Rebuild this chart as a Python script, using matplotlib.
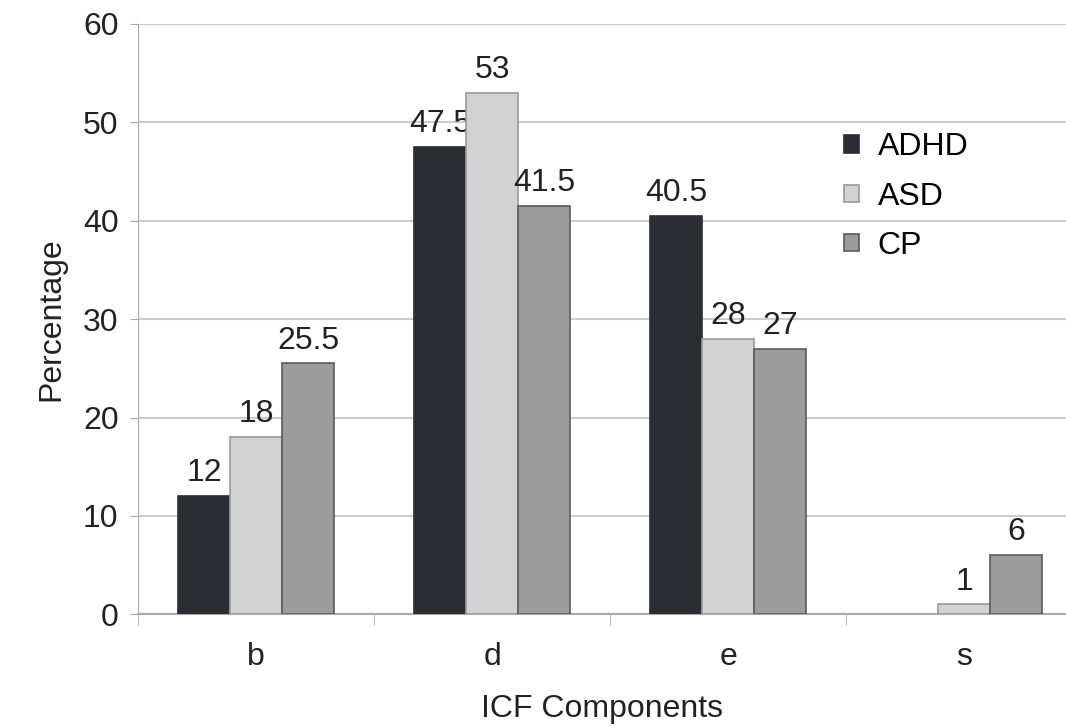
import matplotlib
matplotlib.use("Agg")
import matplotlib.pyplot as plt
import numpy as np

categories = ["b", "d", "e", "s"]
series_names = ["ADHD", "ASD", "CP"]
adhd = [12, 47.5, 40.5, None]
asd = [18, 53, 28, 1]
cp = [25.5, 41.5, 27, 6]
yticks = [0, 10, 20, 30, 40, 50, 60]

plt.rcParams['font.family'] = ['Liberation Sans', 'DejaVu Sans']

fig = plt.figure(figsize=(10.66, 7.27), dpi=100)
ax = fig.add_axes([0.1295, 0.155, 1 - 0.1295, 0.812])

colors = ["#2b2d33", "#d2d2d2", "#9c9c9c"]
edges = ["#2b2d33", "#9a9a9a", "#5a5a5a"]
w = 0.22
fs = 23
x = np.arange(len(categories))
for i, (vals, name) in enumerate(zip([adhd, asd, cp], series_names)):
    xs = [xi + (i - 1) * w for xi, v in zip(x, vals) if v is not None]
    vs = [v for v in vals if v is not None]
    ax.bar(xs, vs, width=w, color=colors[i], edgecolor=edges[i], linewidth=1.2,
           label=name, zorder=3)
    for xx, v in zip(xs, vs):
        s = f"{v:g}"
        ax.text(xx, v + 0.8, s, ha="center", va="bottom", fontsize=fs, color="#222222")

ax.set_xlim(-0.5, 3.432)
ax.set_ylim(0, 60)
ax.set_yticks(yticks)
ax.set_yticklabels([str(t) for t in yticks], fontsize=fs, color="#222222")
ax.set_xticks(x)
ax.set_xticklabels(categories, fontsize=fs, color="#222222")
ax.set_xticks([-0.5, 0.5, 1.5, 2.5], minor=True)
ax.tick_params(axis="x", which="major", length=0, pad=20)
ax.tick_params(axis="x", which="minor", length=8, color="#aaaaaa", direction="out")
ax.tick_params(axis="y", length=6, color="#aaaaaa", pad=8)
ax.grid(axis="y", color="#cccccc", linewidth=1.5, zorder=0)
for s in ["top", "right"]:
    ax.spines[s].set_visible(False)
ax.spines["left"].set_color("#aaaaaa")
ax.spines["bottom"].set_color("#aaaaaa")
ax.spines["bottom"].set_linewidth(1.5)

ax.set_xlabel("ICF Components", fontsize=fs, color="#222222", labelpad=16)
ax.set_ylabel("Percentage", fontsize=fs, color="#222222", labelpad=12)

leg = ax.legend(loc="upper left", bbox_to_anchor=(0.73, 0.865), frameon=False,
                fontsize=fs, handlelength=0.45, handleheight=0.45,
                handletextpad=0.6, labelspacing=0.6)

fig.savefig("out.png", dpi=100)
